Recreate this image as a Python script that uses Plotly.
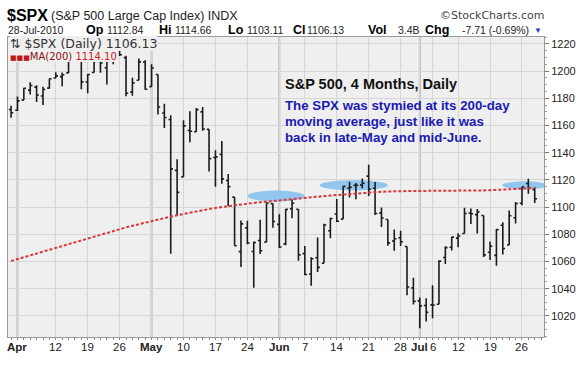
import plotly.graph_objects as go

# ---------------- data ----------------
dates = [
    "2010-03-31",
    "2010-04-01", "2010-04-05", "2010-04-06", "2010-04-07", "2010-04-08", "2010-04-09",
    "2010-04-12", "2010-04-13", "2010-04-14", "2010-04-15", "2010-04-16",
    "2010-04-19", "2010-04-20", "2010-04-21", "2010-04-22", "2010-04-23",
    "2010-04-26", "2010-04-27", "2010-04-28", "2010-04-29", "2010-04-30",
    "2010-05-03", "2010-05-04", "2010-05-05", "2010-05-06", "2010-05-07",
    "2010-05-10", "2010-05-11", "2010-05-12", "2010-05-13", "2010-05-14",
    "2010-05-17", "2010-05-18", "2010-05-19", "2010-05-20", "2010-05-21",
    "2010-05-24", "2010-05-25", "2010-05-26", "2010-05-27", "2010-05-28",
    "2010-06-01", "2010-06-02", "2010-06-03", "2010-06-04",
    "2010-06-07", "2010-06-08", "2010-06-09", "2010-06-10", "2010-06-11",
    "2010-06-14", "2010-06-15", "2010-06-16", "2010-06-17", "2010-06-18",
    "2010-06-21", "2010-06-22", "2010-06-23", "2010-06-24", "2010-06-25",
    "2010-06-28", "2010-06-29", "2010-06-30", "2010-07-01", "2010-07-02",
    "2010-07-06", "2010-07-07", "2010-07-08", "2010-07-09",
    "2010-07-12", "2010-07-13", "2010-07-14", "2010-07-15", "2010-07-16",
    "2010-07-19", "2010-07-20", "2010-07-21", "2010-07-22", "2010-07-23",
    "2010-07-26", "2010-07-27", "2010-07-28",
]

opens = [
    1171.75,
    1171.23, 1178.71, 1186.01, 1188.23, 1181.75, 1187.47,
    1194.94, 1195.94, 1198.69, 1210.77, 1210.17,
    1192.06, 1199.04, 1207.16, 1202.52, 1207.87,
    1217.07, 1209.92, 1184.59, 1193.30, 1206.77,
    1188.58, 1197.50, 1169.24, 1164.38, 1127.04,
    1122.27, 1156.39, 1155.43, 1170.04, 1157.19,
    1136.52, 1138.78, 1119.57, 1107.34, 1067.26,
    1084.78, 1067.42, 1075.51, 1074.27, 1102.59,
    1087.30, 1073.01, 1098.82, 1098.43,
    1065.84, 1050.81, 1062.75, 1058.77, 1082.65,
    1095.00, 1091.21, 1114.02, 1115.98, 1116.16,
    1122.79, 1113.90, 1095.57, 1090.93, 1075.10,
    1077.50, 1071.10, 1040.56, 1031.10, 1027.65,
    1028.09, 1028.54, 1062.92, 1070.50,
    1077.23, 1080.65, 1095.61, 1094.46, 1093.85,
    1066.85, 1064.53, 1086.67, 1072.14, 1092.17,
    1102.89, 1117.36, 1112.84,
]
highs = [
    1174.56,
    1181.43, 1187.73, 1191.80, 1189.60, 1188.55, 1194.66,
    1199.20, 1199.04, 1210.65, 1213.92, 1210.17,
    1197.87, 1208.58, 1210.99, 1210.27, 1217.28,
    1219.80, 1211.38, 1195.05, 1209.36, 1207.99,
    1205.13, 1197.50, 1175.95, 1167.58, 1135.13,
    1163.85, 1170.48, 1172.87, 1173.57, 1157.19,
    1141.88, 1148.66, 1124.27, 1107.34, 1090.16,
    1089.95, 1074.75, 1090.75, 1103.52, 1102.59,
    1094.77, 1098.56, 1105.67, 1098.43,
    1071.36, 1063.15, 1077.74, 1087.85, 1092.25,
    1105.91, 1115.59, 1118.74, 1117.72, 1121.01,
    1131.23, 1118.50, 1099.64, 1090.93, 1083.56,
    1082.60, 1071.10, 1048.08, 1033.58, 1032.95,
    1042.50, 1060.89, 1071.25, 1078.16,
    1080.78, 1099.46, 1099.08, 1098.66, 1093.85,
    1074.70, 1083.94, 1088.96, 1097.50, 1103.73,
    1115.01, 1120.95, 1114.66,
]
lows = [
    1165.77,
    1170.69, 1178.71, 1182.77, 1177.25, 1175.12, 1187.15,
    1194.71, 1188.82, 1198.69, 1208.50, 1186.77,
    1183.68, 1199.04, 1198.85, 1190.19, 1205.10,
    1211.07, 1181.62, 1181.81, 1193.30, 1186.32,
    1188.58, 1168.12, 1158.15, 1065.79, 1094.15,
    1122.27, 1147.71, 1155.43, 1156.14, 1126.14,
    1114.96, 1117.20, 1100.66, 1071.58, 1055.90,
    1072.70, 1040.78, 1065.59, 1074.27, 1084.78,
    1069.89, 1072.03, 1091.81, 1060.50,
    1049.86, 1042.17, 1052.25, 1058.77, 1077.12,
    1089.03, 1091.21, 1107.13, 1105.87, 1113.93,
    1108.24, 1094.18, 1085.31, 1071.60, 1067.89,
    1071.45, 1035.18, 1028.33, 1010.91, 1015.93,
    1018.35, 1028.54, 1058.24, 1068.10,
    1070.45, 1080.65, 1087.68, 1080.53, 1063.32,
    1061.11, 1056.88, 1065.25, 1072.14, 1087.88,
    1101.30, 1109.78, 1103.11,
]
closes = [
    1169.43,
    1178.10, 1187.44, 1189.44, 1182.45, 1186.44, 1194.37,
    1196.48, 1197.30, 1210.65, 1211.67, 1192.13,
    1197.52, 1207.17, 1205.94, 1208.67, 1217.28,
    1212.05, 1183.71, 1191.36, 1206.78, 1186.69,
    1202.26, 1173.60, 1165.90, 1128.15, 1110.88,
    1159.73, 1155.79, 1171.67, 1157.44, 1135.68,
    1136.94, 1120.80, 1115.05, 1071.59, 1087.69,
    1073.65, 1074.03, 1067.95, 1103.06, 1089.41,
    1070.71, 1098.38, 1102.83, 1064.88,
    1050.47, 1062.00, 1055.69, 1086.84, 1091.60,
    1089.63, 1115.23, 1114.61, 1116.04, 1117.51,
    1113.20, 1095.31, 1092.04, 1073.69, 1076.76,
    1074.57, 1041.24, 1030.71, 1027.37, 1022.58,
    1028.06, 1060.27, 1070.25, 1077.96,
    1078.75, 1095.34, 1095.17, 1096.48, 1064.88,
    1071.25, 1083.48, 1069.59, 1093.67, 1102.66,
    1115.01, 1113.84, 1106.13,
]
# 200-day moving average
ma200 = [
    1060.4,
    1061.8, 1063.2, 1064.6, 1066.0, 1067.4, 1068.8,
    1070.2, 1071.6, 1073.0, 1074.4, 1075.8,
    1077.2, 1078.6, 1080.0, 1081.3, 1082.6,
    1083.9, 1085.1, 1086.3, 1087.5, 1088.7,
    1089.8, 1090.9, 1092.0, 1093.0, 1094.0,
    1095.0, 1096.0, 1096.9, 1097.8, 1098.6,
    1099.4, 1100.1, 1100.8, 1101.4, 1102.0,
    1102.6, 1103.1, 1103.6, 1104.1, 1104.6,
    1105.1, 1105.6, 1106.0, 1106.5,
    1106.9, 1107.3, 1107.7, 1108.1, 1108.5,
    1108.9, 1109.3, 1109.7, 1110.0, 1110.4,
    1110.7, 1111.0, 1111.3, 1111.5, 1111.7,
    1111.8, 1111.9, 1111.9, 1111.9, 1111.9,
    1111.8, 1111.8, 1111.8, 1111.8,
    1111.9, 1112.0, 1112.1, 1112.2, 1112.3,
    1112.4, 1112.6, 1112.8, 1113.0, 1113.2,
    1113.5, 1113.8, 1114.1,
]

tick_dates = ["2010-04-01", "2010-04-12", "2010-04-19", "2010-04-26",
              "2010-05-03", "2010-05-10", "2010-05-17", "2010-05-24",
              "2010-06-01", "2010-06-07", "2010-06-14", "2010-06-21", "2010-06-28",
              "2010-07-01", "2010-07-06", "2010-07-12", "2010-07-19", "2010-07-26"]
tick_labels = ["<b>Apr</b>", "12", "19", "26",
               "<b>May</b>", "10", "17", "24",
               "<b>Jun</b>", "7", "14", "21", "28",
               "<b>Jul</b>", "6", "12", "19", "26"]
month_starts = ["2010-04-01", "2010-05-03", "2010-06-01", "2010-07-01"]

y_ticks = [1020, 1040, 1060, 1080, 1100, 1120, 1140, 1160, 1180, 1200, 1220]

# ---------------- layout geometry ----------------
W, H = 583, 381
L, R, T, B = 7, 545, 37, 337
ARIAL = "Liberation Sans, Arial, sans-serif"
VERD = "DejaVu Sans, Verdana, sans-serif"
PLOT_BG = "#efefef"

# trading-day position of every bar (the axis skips weekends and holidays)
pos = {d: i for i, d in enumerate(dates)}
xs = [pos[d] for d in dates]
x_lo, x_hi = -0.48, 83.45


def px(xp):
    return (xp - L) / (R - L)


def py(yp):
    return (B - yp) / (B - T)


fig = go.Figure()
fig.add_trace(go.Ohlc(
    x=xs, open=opens, high=highs, low=lows, close=closes, text=dates,
    increasing=dict(line=dict(color="#1c1c1c", width=1.6)),
    decreasing=dict(line=dict(color="#1c1c1c", width=1.6)),
    tickwidth=0.35, hoverinfo="skip", showlegend=False))
fig.add_trace(go.Scatter(
    x=xs, y=ma200, mode="lines",
    line=dict(color="#d8383c", width=2, dash="3px,2px"),
    hoverinfo="skip", showlegend=False))

shapes = []
for m in month_starts:
    shapes.append(dict(type="line", xref="x", yref="paper", x0=pos[m], x1=pos[m],
                       y0=0, y1=1, line=dict(color="#b9b9b9", width=2), layer="between"))
# light-blue highlight ellipses (x extents in trading-day units, y in index points)
for x0, x1, y0, y1 in [(37.0, 46.0, 1104.2, 1112.2),
                       (48.3, 59.0, 1112.4, 1119.8),
                       (76.9, 83.9, 1113.0, 1119.0)]:
    shapes.append(dict(type="circle", xref="x", yref="y", x0=x0, x1=x1, y0=y0, y1=y1,
                       fillcolor="#92c6ee", line=dict(width=0), layer="between"))
fig.update_layout(shapes=shapes)


def txt(s, x, y, size, color="#111111", family=ARIAL, anchor="left", bg=None, pad=0):
    fig.add_annotation(text=s, xref="paper", yref="paper", x=px(x), y=py(y),
                       xanchor=anchor, yanchor="middle", showarrow=False,
                       font=dict(size=size, color=color, family=family),
                       borderpad=pad, borderwidth=0, bgcolor=bg)


# header
txt("<b>$SPX</b>", 6, 15, 16, "#000000")
txt("(S&P 500 Large Cap Index) INDX", 50, 16, 12.5, "#222222")
txt("©StockCharts.com", 545, 15, 11, "#444444", family=VERD, anchor="right")
txt("28-Jul-2010", 7, 30, 10.5, "#222222")
for lab, lx, val, vx in [("Op", 85, "1112.84", 106), ("Hi", 159, "1114.66", 175),
                         ("Lo", 228, "1103.11", 247), ("Cl", 293, "1106.13", 307),
                         ("Vol", 368, "3.4B", 398), ("Chg", 426, "-7.71 (-0.69%)", 463)]:
    txt("<b>" + lab + "</b>", lx, 30, 12.5, "#000000")
    txt(val, vx, 30, 10.5, "#222222")
txt("▼", 535, 31, 8, "#2a3cc0")

# chart legend (opaque boxes hide the bars behind them, like the original)
txt("⇅ $SPX (Daily) 1106.13", 9, 43, 12.5, "#333333", family=VERD, bg=PLOT_BG)
txt("<span style='color:#c01818;font-size:7px'>■■■</span>MA(200) "
    "<span style='color:#d01c1c'>1114.10</span>",
    9, 56.5, 10, "#8a1010", family=VERD, bg=PLOT_BG)

# chart notes
txt("<b>S&P 500, 4 Months, Daily</b>", 285, 84, 14.5, "#111111")
txt("<b>The SPX was stymied at its 200-day</b>", 285, 105, 13.3, "#1a1ab4")
txt("<b>moving average, just like it was</b>", 285, 121, 13.3, "#1a1ab4")
txt("<b>back in late-May and mid-June.</b>", 285, 137, 13.3, "#1a1ab4")

# x-axis date labels placed at their trading-day positions
for d, lab in zip(tick_dates, tick_labels):
    fig.add_annotation(text=lab, xref="x", yref="paper", x=pos[d], y=py(347),
                       xanchor="center", yanchor="middle", showarrow=False,
                       borderpad=0, borderwidth=0,
                       font=dict(size=11.5, color="#222222", family=ARIAL))

fig.update_layout(
    width=W, height=H, autosize=False,
    margin=dict(l=L, r=W - R, t=T, b=H - B, pad=0),
    paper_bgcolor="white", plot_bgcolor=PLOT_BG,
    xaxis=dict(type="linear", range=[x_lo, x_hi], rangeslider=dict(visible=False),
               tickmode="array", tickvals=[pos[d] for d in tick_dates],
               showticklabels=False,
               ticks="outside", ticklen=2, tickcolor="#8a8a8a",
               minor=dict(ticks="outside", ticklen=2, dtick=1, tick0=0,
                          tickcolor="#8a8a8a", showgrid=False),
               showgrid=True, gridcolor="#d6d6d6", gridwidth=1,
               showline=True, linecolor="#9a9a9a", linewidth=1, mirror=True,
               zeroline=False, fixedrange=True),
    yaxis=dict(side="right", range=[1004.5, 1225.1], tickmode="array", tickvals=y_ticks,
               ticktext=[str(v) for v in y_ticks],
               tickfont=dict(size=11, color="#222222", family=ARIAL),
               ticks="outside", ticklen=4, tickcolor="#777777",
               minor=dict(ticks="outside", ticklen=2, dtick=5, tickcolor="#999999",
                          showgrid=False),
               showgrid=True, gridcolor="#d6d6d6", gridwidth=1,
               showline=True, linecolor="#9a9a9a", linewidth=1, mirror=True,
               zeroline=False),
)

fig.write_html("out.html", config={"displayModeBar": False},
               post_script="document.body.style.margin='0px';")
